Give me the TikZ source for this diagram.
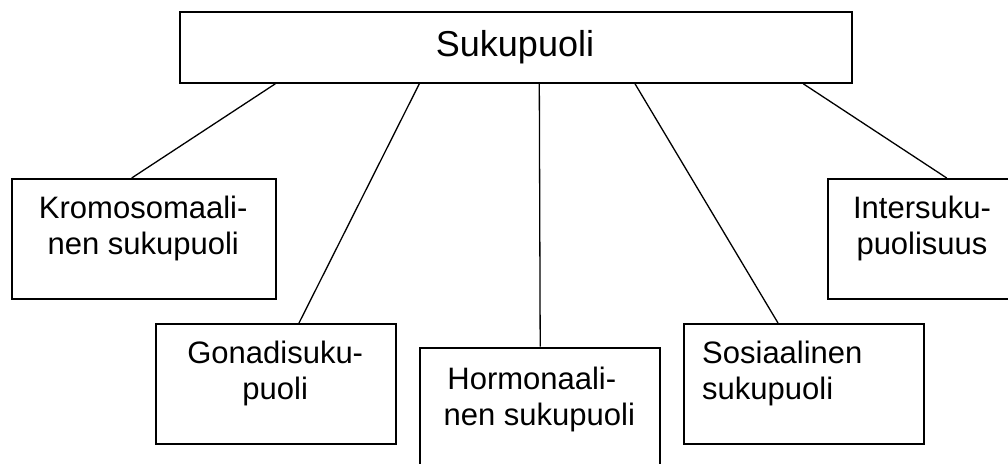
\documentclass[tikz,border=0pt]{standalone}
\usepackage{fontspec}
\setmainfont{Liberation Sans}
\begin{document}
\begin{tikzpicture}[x=1pt,y=-1pt,
  box/.style={draw=black, line width=1.8pt, fill=white, rectangle, inner sep=0pt, anchor=north west},
  lbl/.style={inner sep=0pt, font=\fontsize{31}{36}\selectfont},
  link/.style={draw=black, line width=1.3pt}]
\useasboundingbox (0,0) rectangle (1008,463);
\clip (0,0) rectangle (1008,463);
% boxes
\node[box, minimum width=672.6pt, minimum height=71pt] (top) at (178.7,11) {};
\node[box, minimum width=264.3pt, minimum height=120pt] (krom) at (11,178) {};
\node[box, minimum width=240pt, minimum height=120pt] (gon) at (155,323) {};
\node[box, minimum width=240pt, minimum height=120pt] (hor) at (419.3,346.7) {};
\node[box, minimum width=240pt, minimum height=120pt] (sos) at (682.7,323) {};
\node[box, minimum width=190pt, minimum height=120pt] (int) at (827,178) {};
% texts
\node[inner sep=0pt, font=\fontsize{36}{43}\selectfont, anchor=base] (topT) at (515,56) {Sukupuoli};
\node[lbl, anchor=north, align=center] (kromT) at (143.2,195.8) {Kromosomaali-\\nen sukupuoli};
\node[lbl, anchor=north, align=center] (gonT) at (275.2,340.8) {Gonadisuku-\\puoli};
\node[lbl, anchor=north, align=center] (horT) at (539.3,367.1) {Hormonaali-\hspace*{15pt}\\nen sukupuoli};
\node[lbl, anchor=north west, align=left] (sosT) at (702,340.5) {Sosiaalinen\\sukupuoli};
\node[lbl, anchor=north, align=center] (intT) at (922,195.8) {Intersuku-\\puolisuus};
% connectors
\draw[link] ([xshift=96.6pt]top.south west) -- ([xshift=120.7pt]krom.north west);
\draw[link] ([xshift=240.6pt]top.south west) -- ([xshift=144pt]gon.north west);
\draw[link] ([xshift=360.6pt]top.south west) -- (hor.north);
\draw[link] ([xshift=456.3pt]top.south west) -- ([xshift=95.3pt]sos.north west);
\draw[link] ([xshift=624.6pt]top.south west) -- ([xshift=119.7pt]int.north west);
\end{tikzpicture}
\end{document}
